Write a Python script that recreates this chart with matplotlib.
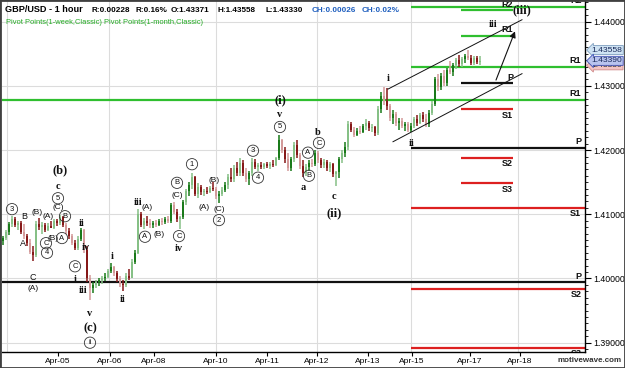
import numpy as np
import matplotlib
matplotlib.use("Agg")
import matplotlib.pyplot as plt
from matplotlib.patches import Rectangle
from matplotlib.ticker import MultipleLocator
from matplotlib.transforms import blended_transform_factory

plt.rcParams["font.family"] = "Liberation Sans"

# --- GBP/USD hourly bars (index = bar number, open = previous close) ---
first_open = 1.4058
closes = [
    1.4063, 1.4072, 1.4085, 1.4092, 1.4083, 1.4087, 1.4073, 1.4066, 1.4055, 1.4042,
    1.4036, 1.4085, 1.4080, 1.4084, 1.4076, 1.4082, 1.4079, 1.4089, 1.4086, 1.4095,
    1.4083, 1.4074, 1.4066, 1.4056, 1.4048, 1.4062, 1.4075, 1.4045, 1.4000, 1.3985,
    1.3990, 1.3994, 1.3997, 1.4001, 1.4003, 1.4012, 1.4018, 1.4008, 1.3999, 1.3992,
    1.3990, 1.4004, 1.4001, 1.4026, 1.4040, 1.4100, 1.4084, 1.4090, 1.4086, 1.4083,
    1.4087, 1.4084, 1.4090, 1.4088, 1.4093, 1.4090, 1.4114, 1.4104, 1.4092, 1.4095,
    1.4119, 1.4136, 1.4146, 1.4158, 1.4132, 1.4142, 1.4134, 1.4137, 1.4135, 1.4141,
    1.4139, 1.4128, 1.4132, 1.4138, 1.4146, 1.4158, 1.4155, 1.4172, 1.4164, 1.4180,
    1.4165, 1.4155, 1.4164, 1.4182, 1.4174, 1.4177, 1.4173, 1.4178, 1.4175, 1.4179,
    1.4177, 1.4188, 1.4215, 1.4200, 1.4186, 1.4172, 1.4186, 1.4208, 1.4192, 1.4175,
    1.4164, 1.4174, 1.4180, 1.4178, 1.4196, 1.4184, 1.4176, 1.4182, 1.4172, 1.4178,
    1.4162, 1.4166, 1.4186, 1.4196, 1.4205, 1.4240, 1.4232, 1.4224, 1.4230, 1.4228,
    1.4237, 1.4242, 1.4234, 1.4236, 1.4226, 1.4264, 1.4284, 1.4276, 1.4268, 1.4250,
    1.4256, 1.4242, 1.4246, 1.4238, 1.4240, 1.4232, 1.4238, 1.4248, 1.4242, 1.4255,
    1.4248, 1.4240, 1.4258, 1.4272, 1.4310, 1.4298, 1.4316, 1.4304, 1.4324, 1.4322,
    1.4332, 1.4340, 1.4334, 1.4342, 1.4346, 1.4344, 1.4336, 1.4343, 1.4337, 1.4339,
]
highs = [
    1.4066, 1.4075, 1.4088, 1.4097, 1.4095, 1.4090, 1.4089, 1.4085, 1.4070, 1.4062,
    1.4050, 1.4090, 1.4094, 1.4088, 1.4087, 1.4086, 1.4090, 1.4092, 1.4093, 1.4099,
    1.4097, 1.4086, 1.4078, 1.4070, 1.4060, 1.4066, 1.4079, 1.4077, 1.4050, 1.4005,
    1.3995, 1.3998, 1.4000, 1.4004, 1.4008, 1.4015, 1.4024, 1.4020, 1.4012, 1.4004,
    1.3998, 1.4008, 1.4015, 1.4030, 1.4045, 1.4108, 1.4104, 1.4094, 1.4098, 1.4092,
    1.4090, 1.4091, 1.4093, 1.4094, 1.4096, 1.4097, 1.4118, 1.4119, 1.4108, 1.4098,
    1.4122, 1.4140, 1.4150, 1.4165, 1.4160, 1.4148, 1.4146, 1.4140, 1.4142, 1.4144,
    1.4150, 1.4143, 1.4136, 1.4142, 1.4150, 1.4162, 1.4172, 1.4176, 1.4182, 1.4188,
    1.4184, 1.4172, 1.4168, 1.4188, 1.4186, 1.4180, 1.4182, 1.4180, 1.4182, 1.4181,
    1.4184, 1.4190, 1.4224, 1.4218, 1.4205, 1.4196, 1.4190, 1.4212, 1.4216, 1.4196,
    1.4185, 1.4178, 1.4184, 1.4186, 1.4200, 1.4198, 1.4188, 1.4186, 1.4185, 1.4182,
    1.4180, 1.4168, 1.4190, 1.4200, 1.4212, 1.4245, 1.4244, 1.4236, 1.4234, 1.4238,
    1.4240, 1.4248, 1.4246, 1.4240, 1.4238, 1.4268, 1.4290, 1.4298, 1.4296, 1.4272,
    1.4262, 1.4260, 1.4250, 1.4250, 1.4244, 1.4244, 1.4242, 1.4252, 1.4254, 1.4258,
    1.4260, 1.4256, 1.4262, 1.4276, 1.4314, 1.4318, 1.4320, 1.4324, 1.4328, 1.4338,
    1.4336, 1.4344, 1.4348, 1.4345, 1.4350, 1.4356, 1.4348, 1.4346, 1.4347, 1.4346,
]
lows = [
    1.4052, 1.4060, 1.4068, 1.4080, 1.4080, 1.4076, 1.4070, 1.4062, 1.4050, 1.4038,
    1.4028, 1.4034, 1.4076, 1.4070, 1.4072, 1.4074, 1.4078, 1.4077, 1.4081, 1.4084,
    1.4080, 1.4070, 1.4062, 1.4052, 1.4044, 1.4045, 1.4058, 1.4040, 1.3995, 1.3966,
    1.3978, 1.3985, 1.3988, 1.3992, 1.3996, 1.4000, 1.4008, 1.4004, 1.3995, 1.3986,
    1.3980, 1.3986, 1.3998, 1.4000, 1.4022, 1.4038, 1.4080, 1.4077, 1.4082, 1.4078,
    1.4078, 1.4080, 1.4082, 1.4084, 1.4085, 1.4086, 1.4087, 1.4100, 1.4088, 1.4077,
    1.4093, 1.4115, 1.4128, 1.4140, 1.4128, 1.4126, 1.4130, 1.4128, 1.4132, 1.4133,
    1.4136, 1.4124, 1.4118, 1.4128, 1.4134, 1.4140, 1.4150, 1.4150, 1.4160, 1.4160,
    1.4160, 1.4150, 1.4145, 1.4160, 1.4170, 1.4168, 1.4170, 1.4170, 1.4172, 1.4171,
    1.4174, 1.4175, 1.4185, 1.4195, 1.4180, 1.4168, 1.4168, 1.4182, 1.4188, 1.4170,
    1.4158, 1.4160, 1.4168, 1.4174, 1.4175, 1.4180, 1.4172, 1.4172, 1.4168, 1.4166,
    1.4158, 1.4144, 1.4156, 1.4180, 1.4190, 1.4200, 1.4228, 1.4220, 1.4222, 1.4225,
    1.4226, 1.4232, 1.4230, 1.4228, 1.4222, 1.4224, 1.4258, 1.4270, 1.4262, 1.4245,
    1.4240, 1.4238, 1.4232, 1.4234, 1.4230, 1.4228, 1.4228, 1.4234, 1.4238, 1.4240,
    1.4244, 1.4236, 1.4236, 1.4254, 1.4268, 1.4292, 1.4294, 1.4300, 1.4300, 1.4318,
    1.4316, 1.4326, 1.4330, 1.4330, 1.4336, 1.4340, 1.4333, 1.4332, 1.4334, 1.4333,
]

# time axis (bar index where each label sits)
date_ticks = [18.33, 35.67, 50.33, 71.0, 88.0, 104.67, 121.67, 136.33, 155.67, 172.33]
date_labels = ["Apr-05", "Apr-06", "Apr-08", "Apr-10", "Apr-11", "Apr-12",
               "Apr-13", "Apr-15", "Apr-17", "Apr-18"]
day_grid = [1.33, 35.33, 71.0, 104.67, 136.0, 171.67]

# pivot levels
month_names = ["R1", "P"]
month_vals = [1.4278, 1.3994]
week_names = ["R2", "R1", "P", "S1", "S2", "S3"]
week_vals = [1.4423, 1.4330, 1.4204, 1.4110, 1.3984, 1.3892]
week_start = 136.0
next_names = ["R2", "R1", "P", "S1", "S2", "S3"]
next_vals = [1.4418, 1.4378, 1.4304, 1.4264, 1.4188, 1.4148]
next_span = [152.67, 170.0]

# trend channel and projection arrow
upper_x, upper_y = [128.33, 173.0], [1.4295, 1.4403]
lower_x, lower_y = [130.0, 173.0], [1.4213, 1.4319]
arrow_from, arrow_to = (164.0, 1.4305), (171.0, 1.4389)

last_high, last_close, last_low = 1.43558, 1.43390, 1.43330

# Elliott wave labels: text, bar, price, kind
waves = [
    ("3", 3.0, 1.4108, "circ"), ("B", 7.0, 1.4097, "abc"), ("A", 6.67, 1.4055, "abc"),
    ("C", 10.0, 1.4002, "abc"), ("(A)", 10.0, 1.3985, "par"), ("(B)", 11.33, 1.4102, "par"),
    ("(A)", 15.0, 1.4096, "par"), ("C", 14.33, 1.4055, "circ"), ("(B)", 16.67, 1.4063, "par"),
    ("A", 19.67, 1.4063, "circ"), ("4", 14.67, 1.4040, "circ"), ("(b)", 19.0, 1.4169, "deg"),
    ("c", 18.33, 1.4144, "rn"), ("5", 18.33, 1.4125, "circ"), ("(C)", 18.33, 1.4110, "par"),
    ("B", 20.67, 1.4097, "circ"), ("ii", 26.33, 1.4086, "rn"), ("iv", 27.67, 1.4048, "rn"),
    ("C", 24.0, 1.4019, "circ"), ("i", 24.0, 1.3998, "rn"), ("iii", 26.67, 1.3982, "rn"),
    ("v", 29.0, 1.3946, "rn"), ("(c)", 29.0, 1.3923, "deg"), ("ii", 29.0, 1.3900, "circ"),
    ("i", 36.33, 1.4034, "rn"), ("ii", 40.0, 1.3967, "rn"), ("iii", 45.0, 1.4119, "rn"),
    ("(A)", 48.0, 1.4111, "par"), ("A", 47.33, 1.4065, "circ"), ("(B)", 52.0, 1.4068, "par"),
    ("B", 58.0, 1.4149, "circ"), ("(C)", 58.0, 1.4130, "par"), ("C", 58.67, 1.4066, "circ"),
    ("iv", 58.67, 1.4046, "rn"), ("1", 63.0, 1.4178, "circ"), ("(A)", 67.0, 1.4110, "par"),
    ("(B)", 70.33, 1.4152, "par"), ("(C)", 72.0, 1.4107, "par"), ("2", 72.0, 1.4091, "circ"),
    ("3", 83.33, 1.4199, "circ"), ("4", 85.0, 1.4157, "circ"), ("(i)", 92.33, 1.4277, "deg"),
    ("v", 92.33, 1.4255, "rn"), ("5", 92.33, 1.4236, "circ"), ("A", 101.67, 1.4196, "circ"),
    ("B", 102.0, 1.4160, "circ"), ("a", 100.0, 1.4141, "rn"), ("b", 105.0, 1.4228, "rn"),
    ("C", 105.33, 1.4211, "circ"), ("c", 110.33, 1.4127, "rn"), ("(ii)", 110.33, 1.4102, "deg"),
    ("i", 128.33, 1.4311, "rn"), ("ii", 136.33, 1.4211, "rn"), ("iii", 163.33, 1.4396, "rn"),
    ("(iii)", 173.0, 1.4418, "deg"),
]

GREEN = "#2fbf2f"
RED = "#dd2020"
BLACK = "#111111"
UP_DARK, UP_LIGHT = "#1a7a1a", "#86c086"
DN_DARK, DN_LIGHT = "#861818", "#d39a9a"


def level_color(name):
    if name.startswith("R"):
        return GREEN
    if name == "P":
        return BLACK
    return RED


fig = plt.figure(figsize=(6.25, 3.68), dpi=100)
ax = fig.add_axes([2 / 625, 16 / 368, 583 / 625, 351 / 368])
ax.set_xlim(-0.33, 194.0)
ax.set_ylim(1.38855, 1.44322)

# grid
for v in np.arange(1.39, 1.4401, 0.01):
    ax.axhline(v, color="#dcdcdc", lw=0.8, zorder=0)
for d in day_grid:
    ax.axvline(d, color="#dcdcdc", lw=0.8, zorder=0)

# bars
c = np.array(closes)
o = np.r_[first_open, c[:-1]]
idx = np.arange(len(c))
up = c >= o
dark = idx % 2 == 0
cols = np.where(up, np.where(dark, UP_DARK, UP_LIGHT), np.where(dark, DN_DARK, DN_LIGHT))
ax.vlines(idx, lows, highs, colors=cols, lw=1.1, zorder=3)
ax.bar(idx, np.maximum(np.abs(c - o), 0.00008), bottom=np.minimum(c, o),
       width=0.75, color=cols, lw=0, zorder=3)

# pivots
xmax = ax.get_xlim()[1]
lab = dict(fontsize=6.5, fontweight="bold", color="#111111", clip_on=True, zorder=6)
for name, v in zip(month_names, month_vals):
    ax.axhline(v, color=level_color(name), lw=1.6, zorder=2)
for name, v in zip(week_names, week_vals):
    ax.hlines(v, week_start, xmax, color=level_color(name), lw=1.6, zorder=2)
for name, v in list(zip(month_names, month_vals)) + list(zip(week_names, week_vals)):
    above = not name.startswith("S")
    ax.text(192.8, v + (0.00025 if above else -0.00025), name, ha="right",
            va="bottom" if above else "top", **lab)
for name, v in zip(next_names, next_vals):
    above = not name.startswith("S")
    ax.hlines(v, next_span[0], next_span[1], color=level_color(name), lw=1.6, zorder=2)
    ax.text(next_span[1], v + (0.00025 if above else -0.00025), name, ha="right",
            va="bottom" if above else "top", **lab)

# channel + arrow
ax.plot(upper_x, upper_y, color=BLACK, lw=0.7, zorder=4)
ax.plot(lower_x, lower_y, color=BLACK, lw=0.7, zorder=4)
ax.annotate("", xy=arrow_to, xytext=arrow_from,
            arrowprops=dict(arrowstyle="-|>", color=BLACK, lw=0.8, mutation_scale=9),
            zorder=4)

# wave labels
styles = {
    "rn": dict(family="Liberation Serif", fontweight="bold", fontsize=7.5),
    "deg": dict(family="Liberation Serif", fontweight="bold", fontsize=9),
    "par": dict(fontsize=6),
    "abc": dict(fontsize=6.5),
    "circ": dict(fontsize=5.5, bbox=dict(boxstyle="circle,pad=0.28", fc="none",
                                         ec="#333333", lw=0.6)),
}
for txt, x, y, kind in waves:
    ax.text(x, y, txt, ha="center", va="center", color="#111111", zorder=7,
            **styles[kind])

# axes styling
for s in ["left", "top"]:
    ax.spines[s].set_visible(False)
for s in ["right", "bottom"]:
    ax.spines[s].set_color("black")
    ax.spines[s].set_linewidth(1.0)
ax.yaxis.tick_right()
yt = np.arange(1.39, 1.4401, 0.01)
ax.set_yticks(yt)
ax.set_yticklabels([f"{v:.5f}" for v in yt])
ax.yaxis.set_minor_locator(MultipleLocator(0.001))
ax.tick_params(axis="y", which="major", length=4, width=0.8, labelsize=6.3, pad=2)
ax.tick_params(axis="y", which="minor", length=2, width=0.6)
ax.set_xticks(date_ticks)
ax.set_xticklabels(date_labels)
ax.tick_params(axis="x", length=3, width=0.8, labelsize=6, pad=1)

# price flags on the right scale
tr = blended_transform_factory(ax.transAxes, ax.transData)
flag = dict(transform=tr, fontsize=6.1, va="center", ha="left", clip_on=False)
ax.text(1.011, last_low - 0.0001, f"{last_low:.5f}", color="#333333", zorder=8,
        bbox=dict(boxstyle="larrow,pad=0.12", fc="#f3c4c4", ec="#d08a8a", lw=0.6), **flag)
ax.text(1.011, last_high, f"{last_high:.5f}", color="#1a2a5a", zorder=9,
        bbox=dict(boxstyle="larrow,pad=0.12", fc="#cfe3f3", ec="#7f9fbf", lw=0.6), **flag)
ax.text(1.011, last_close, f"{last_close:.5f}", color="#1a2a5a", zorder=10,
        bbox=dict(boxstyle="larrow,pad=0.12", fc="#b9c3ee", ec="#3f51b5", lw=0.6), **flag)

# header
ty = 1 - 10 / 368
fig.text(5 / 625, ty, "GBP/USD - 1 hour", fontsize=6.6, fontweight="bold", va="center")
for x, s, col in [(91, "R:0.00228", "black"), (135, "R:0.16%", "black"),
                  (171, "O:1.43371", "black"), (218, "H:1.43558", "black"),
                  (266, "L:1.43330", "black"), (312, "CH:0.00026", "#1f5fbf"),
                  (362, "CH:0.02%", "#1f5fbf")]:
    fig.text(x / 625, ty, s, fontsize=5.9, fontweight="bold", va="center", color=col)
fig.text(6 / 625, 1 - 22 / 368,
         "Pivot Points(1-week,Classic) Pivot Points(1-month,Classic)",
         fontsize=5.4, va="center", color="#22aa22")
fig.text(622 / 625, 1 - 361 / 368, "motivewave.com", fontsize=5.8, fontweight="bold",
         ha="right", va="center", color="#333333")

fig.add_artist(Rectangle((0, 0), 1, 1, transform=fig.transFigure, fill=False,
                         ec="#404040", lw=2))

fig.savefig("out.png", dpi=100)
